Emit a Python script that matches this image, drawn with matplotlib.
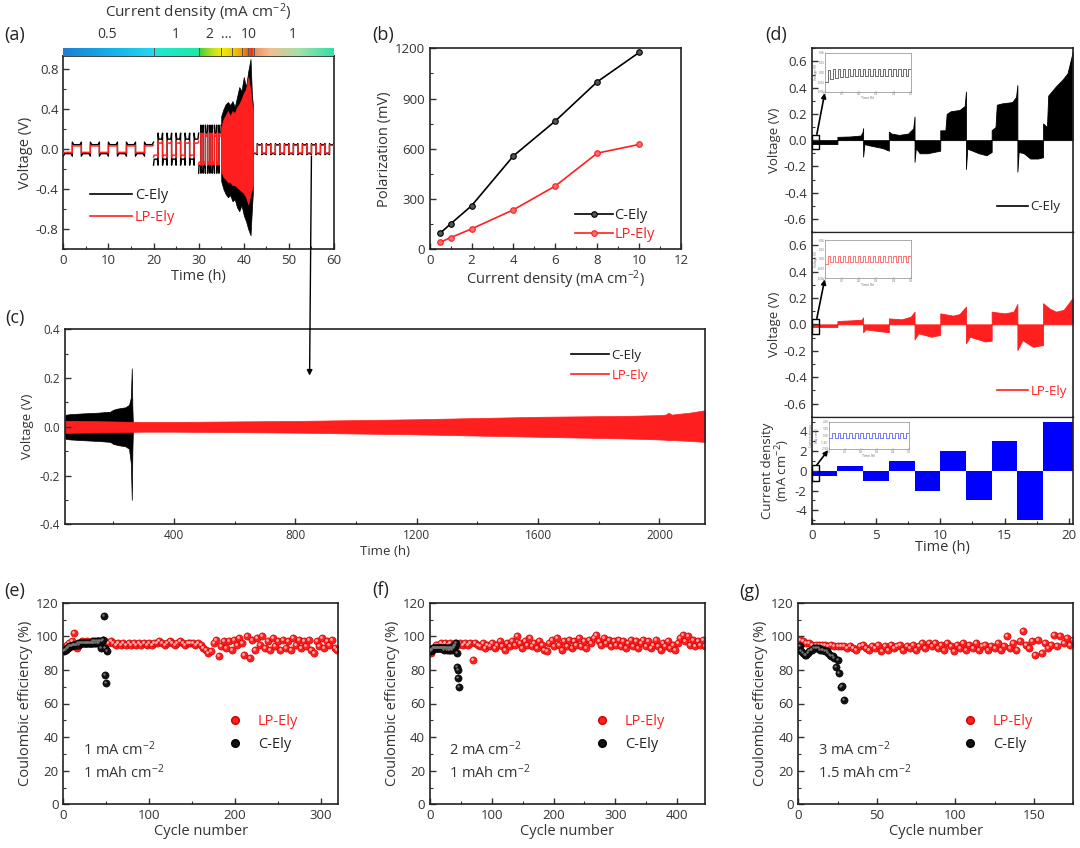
import numpy as np
import matplotlib
matplotlib.use("Agg")
import matplotlib.pyplot as plt
from matplotlib.colors import LinearSegmentedColormap
from matplotlib.patches import Rectangle, ConnectionPatch
from matplotlib.lines import Line2D
from matplotlib.ticker import MultipleLocator
from matplotlib.transforms import offset_copy, blended_transform_factory

plt.rcParams['font.family'] = ['Open Sans', 'DejaVu Sans']
plt.rcParams['mathtext.default'] = 'regular'
plt.rcParams['axes.unicode_minus'] = False

# ---------------- data ----------------
# (a) rate test: square-wave segments (start, end, half cycle in h, plateau / overshoot in V)
seg_start = [0, 20, 30, 42]
seg_end = [20, 30, 35, 60]
seg_half = [2.0, 1.0, 0.5, 1.0]
c_plateau = [0.045, 0.10, 0.16, 0.045]
c_peak = [0.07, 0.16, 0.24, 0.055]
lp_plateau = [0.032, 0.06, 0.13, 0.038]
lp_peak = [0.04, 0.08, 0.16, 0.045]
# envelope of the dense high-rate part (35-42 h)
env_t = [35.0, 35.5, 36.0, 36.5, 37.0, 37.5, 38.0, 38.5, 39.0, 39.5, 40.0, 40.5, 41.0, 41.5, 41.8, 42.0]
env_c_up = [0.33, 0.40, 0.45, 0.47, 0.44, 0.48, 0.42, 0.52, 0.62, 0.58, 0.72, 0.62, 0.78, 0.90, 0.55, 0.45]
env_c_lo = [-0.32, -0.40, -0.45, -0.48, -0.46, -0.52, -0.50, -0.58, -0.62, -0.56, -0.66, -0.72, -0.80, -0.86, -0.60, -0.45]
env_lp_up = [0.22, 0.30, 0.34, 0.38, 0.33, 0.38, 0.36, 0.42, 0.45, 0.50, 0.56, 0.60, 0.72, 0.58, 0.45, 0.40]
env_lp_lo = [-0.22, -0.28, -0.30, -0.33, -0.33, -0.36, -0.36, -0.38, -0.40, -0.42, -0.44, -0.48, -0.55, -0.45, -0.40, -0.35]
# current density colour strip
cd_t = [0, 10, 19.9, 20.1, 30, 30.3, 33, 35, 37.5, 39.5, 41, 42, 42.4, 46, 52, 60]
cd_colors = ['#1e7fd4', '#14aee8', '#22d8f0', '#22e6d4', '#1ee8a8', '#44d040', '#b8e020', '#f0ec10',
             '#f0d000', '#f0a010', '#e86018', '#d83018', '#ec9060', '#f0c090', '#a8e0a8', '#30e0a8']
cd_sep = [20, 30, 35, 37.5, 39.5, 41, 42.3]
cd_labels = ['0.5', '1', '2', '…', '10', '1']
cd_label_t = [9.7, 25, 32.4, 36.2, 41.2, 50.9]

# (b) polarization
cd_b = [0.5, 1, 2, 4, 6, 8, 10]
pol_c = [96, 152, 260, 558, 766, 1000, 1175]
pol_lp = [42, 70, 122, 236, 378, 574, 626]

# (c) long-term cycling, envelopes
c_t = [40, 45, 60, 100, 150, 190, 200, 215, 240, 252, 258, 261, 263, 265]
c_up = [0.045, 0.05, 0.052, 0.055, 0.058, 0.062, 0.07, 0.075, 0.08, 0.09, 0.12, 0.24, 0.08, 0.0]
c_lo = [-0.045, -0.05, -0.052, -0.055, -0.058, -0.062, -0.07, -0.075, -0.08, -0.09, -0.15, -0.30, -0.10, 0.0]
lp_t = [40, 300, 400, 800, 1200, 1600, 1900, 2000, 2020, 2030, 2040, 2100, 2150]
lp_up = [0.025, 0.02, 0.02, 0.024, 0.031, 0.041, 0.045, 0.048, 0.05, 0.058, 0.05, 0.058, 0.068]
lp_lo = [-0.025, -0.02, -0.02, -0.024, -0.031, -0.041, -0.048, -0.052, -0.053, -0.055, -0.054, -0.058, -0.062]

# (d) step test
dc_t = [0, 2.0, 2.0, 3.0, 3.8, 3.95, 4.0, 4.0, 4.1, 4.5, 5.0, 5.5, 6.0,
        6.0, 6.2, 6.8, 7.5, 7.9, 8.0, 8.0, 8.1, 8.4, 9.0, 9.5, 10.0,
        10.0, 10.4, 10.5, 10.8, 11.5, 11.9, 12.0, 12.0, 12.1, 12.5, 13.0, 13.6, 14.0,
        14.0, 14.3, 14.4, 14.8, 15.6, 15.9, 16.0, 16.0, 16.1, 16.5, 17.0, 17.6, 18.0,
        18.0, 18.3, 18.4, 19.0, 19.5, 19.9, 20.3]
dc_v = [-0.03, -0.03, 0.025, 0.028, 0.035, 0.06, 0.09, -0.125, -0.03, -0.04, -0.05, -0.06, -0.08,
        0.065, 0.05, 0.04, 0.05, 0.09, 0.18, -0.165, -0.06, -0.10, -0.10, -0.09, -0.08,
        0.075, 0.075, 0.20, 0.22, 0.23, 0.26, 0.37, -0.22, -0.065, -0.08, -0.10, -0.115, -0.09,
        0.076, 0.10, 0.27, 0.28, 0.29, 0.33, 0.42, -0.24, -0.09, -0.10, -0.14, -0.14, -0.13,
        0.127, 0.10, 0.34, 0.41, 0.46, 0.51, 0.67]
dlp_t = [0, 2.0, 2.0, 3.0, 3.9, 4.0, 4.0, 4.2, 5.0, 6.0,
         6.0, 7.0, 7.7, 8.0, 8.0, 8.3, 9.3, 10.0,
         10.0, 11.0, 11.5, 12.0, 12.0, 12.3, 13.5, 14.0,
         14.0, 15.0, 15.7, 16.0, 16.0, 16.4, 17.2, 18.0,
         18.0, 18.5, 19.0, 19.6, 20.3]
dlp_v = [-0.02, -0.02, 0.025, 0.03, 0.035, 0.053, -0.06, -0.038, -0.048, -0.06,
         0.045, 0.038, 0.058, 0.096, -0.114, -0.068, -0.094, -0.08,
         0.083, 0.066, 0.078, 0.134, -0.144, -0.094, -0.13, -0.124,
         0.096, 0.083, 0.096, 0.154, -0.195, -0.12, -0.17, -0.157,
         0.16, 0.12, 0.096, 0.11, 0.20]
block_start = [0, 2, 4, 6, 8, 10, 12, 14, 16, 18]
block_width = [2, 2, 2, 2, 2, 2, 2, 2, 2, 2.3]
block_cd = [-0.5, 0.5, -1, 1, -2, 2, -3, 3, -5, 5]
# inset traces (one value per half cycle, first 0.5 h)
ins_c = [-0.030, 0.008, -0.020, 0.010, -0.016, 0.010, -0.014, 0.010, -0.013, 0.010, -0.012, 0.010,
         -0.012, 0.010, -0.012, 0.010, -0.011, 0.010, -0.011, 0.010, -0.011, 0.010, -0.011, 0.010,
         -0.011, 0.010, -0.011, 0.010, -0.011, 0.010, -0.011, 0.010, -0.011, 0.010]
ins_lp = [-0.016, 0.010, -0.011, 0.010, -0.010, 0.010, -0.010, 0.010, -0.010, 0.010, -0.010, 0.010,
          -0.010, 0.010, -0.010, 0.010, -0.010, 0.010, -0.010, 0.010, -0.010, 0.010, -0.010, 0.010,
          -0.010, 0.010, -0.010, 0.010, -0.010, 0.010, -0.010, 0.010, -0.010, 0.010]
ins_cd = [-0.5, 0.5, -0.5, 0.5, -0.5, 0.5, -0.5, 0.5, -0.5, 0.5, -0.5, 0.5, -0.5, 0.5,
          -0.5, 0.5, -0.5, 0.5, -0.5, 0.5, -0.5, 0.5, -0.5, 0.5, -0.5, 0.5, -0.5, 0.5]

# (e)-(g) Coulombic efficiency
e_lp = [93, 95, 96, 97, 102, 93, 96, 97, 96, 97, 96, 97, 96, 97, 96, 98, 97, 96, 97, 96,
        95, 96, 95, 96, 95, 96, 95, 96, 95, 96, 95, 96, 95, 96, 95, 96, 96, 97, 96, 95,
        96, 97, 96, 95, 96, 97, 96, 95, 96, 96, 96, 95, 96, 95, 93, 92, 90, 91, 96, 98,
        88, 94, 97, 93, 97, 92, 98, 95, 99, 96, 89, 100, 87, 98, 92, 99, 95, 100, 93, 97,
        92, 99, 94, 97, 92, 98, 93, 97, 92, 99, 95, 98, 93, 97, 94, 98, 92, 90, 97, 94,
        99, 93, 97, 95, 98, 93, 92]
e_c = [91, 92, 92, 93, 93, 93, 94, 94, 94, 94, 95, 95, 95, 95, 95, 95, 96, 95, 96, 96,
       96, 96, 96, 96, 96, 96, 96, 96, 96, 96, 96, 96, 96, 96, 97, 96, 97, 96, 97, 96,
       97, 96, 97, 93, 97, 98, 112, 93, 77, 72, 91]
f_lp = [90, 93, 95, 95, 96, 95, 96, 95, 96, 95, 96, 95, 96, 95, 96, 95, 96, 86, 96, 95,
        94, 96, 93, 95, 94, 96, 93, 95, 97, 94, 92, 96, 94, 97, 95, 100, 96, 93, 97, 95,
        99, 94, 96, 93, 97, 95, 92, 91, 96, 98, 94, 99, 95, 92, 97, 94, 98, 93, 97, 95,
        99, 94, 97, 93, 98, 96, 99, 101, 97, 95, 99, 96, 98, 94, 97, 95, 98, 94, 97, 93,
        96, 98, 94, 97, 93, 96, 98, 94, 97, 93, 95, 98, 94, 92, 96, 94, 97, 93, 95, 92,
        96, 99, 101, 97, 100, 95, 98, 94, 97, 95, 98, 94]
f_c = [91, 92, 92, 92, 93, 93, 93, 93, 93, 93, 93, 93, 93, 93, 93, 93, 93, 93, 93, 93,
       93, 92, 93, 93, 93, 93, 93, 92, 93, 93, 92, 93, 92, 93, 92, 93, 93, 94, 93, 94,
       95, 96, 90, 82, 80, 75, 70]
g_lp = [98, 97, 96, 96, 95, 95, 95, 95, 95, 94, 95, 94, 94, 94, 94, 93, 94, 93, 92, 94,
        95, 93, 92, 94, 93, 95, 91, 94, 92, 95, 93, 94, 95, 92, 94, 93, 95, 92, 94, 96,
        93, 96, 94, 96, 93, 95, 92, 96, 94, 91, 95, 93, 96, 92, 95, 93, 96, 92, 94, 95,
        92, 94, 93, 96, 92, 94, 100, 93, 96, 92, 97, 103, 95, 93, 97, 89, 98, 90, 96, 93,
        95, 101, 94, 100, 96, 99, 95, 98]
g_c = [94, 91, 90, 89, 89, 90, 91, 92, 92, 93, 93, 93, 93, 92, 92, 92, 91, 91, 90, 89,
       88, 88, 87, 82, 86, 78, 70, 70.5, 62]

# ---------------- figure ----------------
W, H = 1080, 848
fig = plt.figure(figsize=(W / 100, H / 100), dpi=100)
TXT = '#333333'
RED = '#ff1f1f'


def px(l, t, r, b):
    return [l / W, 1 - b / H, (r - l) / W, (b - t) / H]


def style(ax, fs=9):
    ax.tick_params(which='both', direction='in', labelsize=fs, colors=TXT, top=False, right=False)
    ax.tick_params(which='major', length=4, width=1)
    ax.tick_params(which='minor', length=2, width=0.8)
    for s in ax.spines.values():
        s.set_linewidth(1.2)
        s.set_color('#222222')


def color_legend(leg, colors):
    for t, c in zip(leg.get_texts(), colors):
        t.set_color(c)


def square_wave(t0, t1, half, plateau, peak):
    ts, vs = [], []
    n = int(round((t1 - t0) / half))
    for k in range(n):
        a = t0 + k * half
        b = a + half
        s = -1 if k % 2 == 0 else 1
        d = 0.15 * half
        ts += [a, a + d, b - d, b]
        vs += [s * peak, s * plateau, s * plateau, s * peak]
    return ts, vs


# ---- (a) ----
axa = fig.add_axes(px(63.3, 56, 334, 249.3))
for i in range(len(seg_start)):
    t, v = square_wave(seg_start[i], seg_end[i], seg_half[i], c_plateau[i], c_peak[i])
    axa.plot(t, v, color='k', lw=1.0, zorder=2)
axa.fill_between(env_t, env_c_lo, env_c_up, color='k', lw=0.5, zorder=2)
for i in range(len(seg_start)):
    t, v = square_wave(seg_start[i], seg_end[i], seg_half[i], lp_plateau[i], lp_peak[i])
    axa.plot(t, v, color=RED, lw=1.0, zorder=3)
axa.fill_between(env_t, env_lp_lo, env_lp_up, color=RED, lw=0.5, zorder=3)
axa.set_xlim(0, 60)
axa.set_ylim(-1.0, 0.93)
axa.xaxis.set_major_locator(MultipleLocator(10))
axa.xaxis.set_minor_locator(MultipleLocator(5))
axa.yaxis.set_minor_locator(MultipleLocator(0.2))
axa.set_yticks([-0.8, -0.4, 0.0, 0.4, 0.8])
axa.set_yticklabels(['-0.8', '-0.4', '0.0', '0.4', '0.8'])
style(axa, 9.5)
axa.set_xlabel('Time (h)', fontsize=10.5, color=TXT, labelpad=1)
axa.set_ylabel('Voltage (V)', fontsize=10.5, color=TXT, labelpad=2)
leg = axa.legend([Line2D([], [], color='k', lw=1.2), Line2D([], [], color=RED, lw=1.2)],
                 ['C-Ely', 'LP-Ely'], loc='center left', bbox_to_anchor=(0.07, 0.22),
                 frameon=False, fontsize=10.5, handlelength=2.9, handletextpad=0.2,
                 borderpad=0, labelspacing=0.45)
color_legend(leg, ['#222222', RED])

cax = fig.add_axes(px(63.3, 47.7, 334, 56))
cmap = LinearSegmentedColormap.from_list('cd', list(zip(np.array(cd_t) / 60.0, cd_colors)))
cax.imshow(np.linspace(0, 60, 1200)[None, :], aspect='auto', cmap=cmap, vmin=0, vmax=60,
           extent=[0, 60, 0, 1])
for s in cd_sep:
    cax.axvline(s, color='#555555', lw=0.7)
cax.set_xlim(0, 60)
cax.set_xticks([])
cax.set_yticks([])
for s in cax.spines.values():
    s.set_visible(False)
tr = blended_transform_factory(cax.transData, cax.transAxes)
for lab, t in zip(cd_labels, cd_label_t):
    cax.text(t, 2.55, lab, transform=tr, ha='center', va='center', fontsize=10, color=TXT)
fig.text(198 / W, 1 - 13 / H, 'Current density (mA cm$^{-2}$)', ha='center', va='center',
         fontsize=11, color=TXT)

# ---- (b) ----
axb = fig.add_axes(px(429.7, 48.3, 681, 249.3))
axb.plot(cd_b, pol_c, color='k', lw=1.2, marker='o', ms=4, mfc='#555555', mec='k', mew=0.8)
axb.plot(cd_b, pol_lp, color=RED, lw=1.2, marker='o', ms=4, mfc='#ff6a6a', mec=RED, mew=0.8)
axb.set_xlim(0, 12)
axb.set_ylim(0, 1200)
axb.xaxis.set_major_locator(MultipleLocator(2))
axb.xaxis.set_minor_locator(MultipleLocator(1))
axb.yaxis.set_major_locator(MultipleLocator(300))
axb.yaxis.set_minor_locator(MultipleLocator(150))
style(axb, 9.5)
axb.set_xlabel('Current density (mA cm$^{-2}$)', fontsize=10.5, color=TXT, labelpad=1)
axb.set_ylabel('Polarization (mV)', fontsize=10.5, color=TXT, labelpad=2)
leg = axb.legend(['C-Ely', 'LP-Ely'], loc='center left', bbox_to_anchor=(0.55, 0.12),
                 frameon=False, fontsize=10.5, handlelength=2.6, handletextpad=0.1,
                 borderpad=0, labelspacing=0.3)
color_legend(leg, ['#222222', RED])

# ---- (c) ----
axc = fig.add_axes(px(64.7, 329.3, 705, 524.3))
axc.fill_between(c_t, c_lo, c_up, color='k', lw=0.5)
axc.fill_between(lp_t, lp_lo, lp_up, color=RED, lw=0.5)
axc.set_xlim(40, 2150)
axc.set_ylim(-0.4, 0.4)
axc.xaxis.set_minor_locator(MultipleLocator(200))
axc.yaxis.set_minor_locator(MultipleLocator(0.1))
style(axc, 8.5)
axc.set_xticks([400, 800, 1200, 1600, 2000])
axc.set_yticks([-0.4, -0.2, 0.0, 0.2, 0.4])
axc.set_yticklabels(['-0.4', '-0.2', '0.0', '0.2', '0.4'])
axc.set_xlabel('Time (h)', fontsize=9.5, color=TXT, labelpad=2)
axc.set_ylabel('Voltage (V)', fontsize=9.5, color=TXT, labelpad=4)
leg = axc.legend([Line2D([], [], color='k', lw=1.2), Line2D([], [], color=RED, lw=1.2)],
                 ['C-Ely', 'LP-Ely'], loc='center left', bbox_to_anchor=(0.78, 0.815),
                 frameon=False, fontsize=9.5, handlelength=2.9, handletextpad=0.2,
                 borderpad=0, labelspacing=0.5)
color_legend(leg, ['#222222', RED])

# arrow from (a) to (c)
con = ConnectionPatch(xyA=(55, -0.07), coordsA=axa.transData, xyB=(847, 0.21),
                      coordsB=axc.transData, arrowstyle='-|>', color='k', lw=1.0,
                      mutation_scale=8)
fig.add_artist(con)

# ---- (d) ----
axd1 = fig.add_axes(px(811.7, 48.3, 1073.3, 232))
axd2 = fig.add_axes(px(811.7, 232, 1073.3, 416.7))
axd3 = fig.add_axes(px(811.7, 416.7, 1073.3, 524))
axd1.fill_between(dc_t, 0, dc_v, color='k', lw=0.6)
axd2.fill_between(dlp_t, 0, dlp_v, color=RED, lw=0.6)
axd3.bar(block_start, block_cd, width=block_width, align='edge', color='#0000ff', lw=0)
for ax in (axd1, axd2):
    ax.set_ylim(-0.7, 0.7)
    ax.yaxis.set_minor_locator(MultipleLocator(0.1))
    ax.set_yticks([-0.6, -0.4, -0.2, 0.0, 0.2, 0.4, 0.6])
    ax.set_yticklabels(['-0.6', '-0.4', '-0.2', '0.0', '0.2', '0.4', '0.6'])
    style(ax, 9.5)
    ax.tick_params(axis='x', which='both', bottom=False, labelbottom=False)
    ax.set_ylabel('Voltage (V)', fontsize=9.5, color=TXT, labelpad=2)
axd3.set_ylim(-5.4, 5.5)
axd3.yaxis.set_major_locator(MultipleLocator(2))
axd3.yaxis.set_minor_locator(MultipleLocator(1))
style(axd3, 9.5)
axd3.set_ylabel('Current density\n(mA cm$^{-2}$)', fontsize=9.5, color=TXT, labelpad=2,
                linespacing=1.0)
axd3.set_xlabel('Time (h)', fontsize=10.5, color=TXT, labelpad=-1)
for ax in (axd1, axd2, axd3):
    ax.set_xlim(0, 20.35)
    ax.xaxis.set_major_locator(MultipleLocator(5))
    ax.xaxis.set_minor_locator(MultipleLocator(2.5))
axd1.spines['bottom'].set_linewidth(0.9)
axd2.spines['top'].set_linewidth(0.9)
axd2.spines['bottom'].set_linewidth(0.9)
axd3.spines['top'].set_linewidth(0.9)

for ax, lab, col in ((axd1, 'C-Ely', 'k'), (axd2, 'LP-Ely', RED)):
    leg = ax.legend([Line2D([], [], color=col, lw=1.2)], [lab], loc='center left',
                    bbox_to_anchor=(0.685, 0.138), frameon=False, fontsize=9.5,
                    handlelength=2.3, handletextpad=0.2, borderpad=0)
    color_legend(leg, ['#222222' if col == 'k' else RED])

# insets of (d)
ins_specs = [(axd1, ins_c, '#555555', px(825, 53, 910.7, 91.7), (0.05, -0.07, 0.55, 0.11),
              (0.4, 0.045), 'Voltage (V)', 0.06),
             (axd2, ins_lp, '#ff6060', px(825, 240, 910.7, 278), (0.05, -0.07, 0.55, 0.11),
              (0.4, 0.045), 'Voltage (V)', 0.06),
             (axd3, ins_cd, '#6060ff', px(829, 421.7, 909, 449), (0.05, -1.05, 0.55, 1.65),
              (0.4, 0.6), 'Current density\n(mA cm$^{-2}$)', 2.5)]
for host, vals, col, pos, rect, start, ylab, lim in ins_specs:
    ins = fig.add_axes(pos)
    dt = 0.5 / len(vals)
    tt = np.arange(len(vals) + 1) * dt
    ins.step(tt, list(vals) + [vals[-1]], where='post', color=col, lw=0.6)
    ins.set_xlim(0, 0.5)
    ins.set_ylim(-lim, lim)
    ins.set_xticks([0, 0.1, 0.2, 0.3, 0.4, 0.5])
    ins.set_yticks(np.linspace(-lim, lim, 5))
    ins.tick_params(labelsize=2.2, length=1, width=0.3, direction='in', colors='#666666', pad=0.5)
    ins.set_xlabel('Time (h)', fontsize=2.5, labelpad=0, color='#666666')
    ins.set_ylabel(ylab, fontsize=2.3, labelpad=0, color='#666666')
    for s in ins.spines.values():
        s.set_linewidth(0.5)
        s.set_color('#888888')
    host.add_patch(Rectangle(rect[:2], rect[2], rect[3], fill=False, ec='k', lw=1.0, zorder=5))
    host.annotate('', xy=(0, 0), xycoords=ins, xytext=start, textcoords='data',
                  arrowprops=dict(arrowstyle='-|>', color='k', lw=1.2, mutation_scale=7,
                                  shrinkA=0, shrinkB=1))

# ---- (e)-(g) ----
ce_specs = [
    (px(63.3, 602.7, 338, 804.3), e_lp, 1, 3, e_c, 320, 100, 50, '1 mA cm$^{-2}$', '1 mAh cm$^{-2}$'),
    (px(430, 602.7, 705, 804.3), f_lp, 1, 4, f_c, 445, 100, 50, '2 mA cm$^{-2}$', '1 mAh cm$^{-2}$'),
    (px(798.3, 602.7, 1073, 804.3), g_lp, 1, 2, g_c, 175, 50, 25, '3 mA cm$^{-2}$', '1.5 mAh cm$^{-2}$'),
]
for pos, ylp, x0, step, yc, xmax, major, minor, t1, t2 in ce_specs:
    ax = fig.add_axes(pos)
    xlp = np.arange(x0, x0 + step * len(ylp), step)
    xc = np.arange(1, len(yc) + 1)
    hl = offset_copy(ax.transData, fig=fig, x=-0.7, y=0.7, units='points')
    ax.scatter(xlp, ylp, s=27, c=RED, edgecolors='#c80000', linewidths=0.4, zorder=2)
    ax.scatter(xlp, ylp, s=4, c='#ffb0b0', linewidths=0, zorder=2, transform=hl)
    ax.scatter(xc, yc, s=27, c='#111111', edgecolors='k', linewidths=0.4, zorder=3)
    ax.scatter(xc, yc, s=3, c='#777777', linewidths=0, zorder=3, transform=hl)
    ax.set_xlim(0, xmax)
    ax.set_ylim(0, 120)
    ax.xaxis.set_major_locator(MultipleLocator(major))
    ax.xaxis.set_minor_locator(MultipleLocator(minor))
    ax.yaxis.set_major_locator(MultipleLocator(20))
    ax.yaxis.set_minor_locator(MultipleLocator(10))
    style(ax, 9.5)
    ax.set_xlabel('Cycle number', fontsize=10.5, color=TXT, labelpad=1)
    ax.set_ylabel('Coulombic efficiency (%)', fontsize=10.5, color=TXT, labelpad=2)
    ax.text(0.07, 0.27, t1, transform=ax.transAxes, fontsize=10.5, color=TXT, va='center')
    ax.text(0.07, 0.155, t2, transform=ax.transAxes, fontsize=10.5, color=TXT, va='center')
    hs = [Line2D([], [], ls='', marker='o', ms=5.5, mfc=RED, mec='#c80000'),
          Line2D([], [], ls='', marker='o', ms=5.5, mfc='#111111', mec='k')]
    leg = ax.legend(hs, ['LP-Ely', 'C-Ely'], loc='center left', bbox_to_anchor=(0.56, 0.355),
                    frameon=False, fontsize=10.5, handlelength=1.5, handletextpad=0.8,
                    borderpad=0, labelspacing=0.55)
    color_legend(leg, [RED, '#222222'])

# panel letters
for lab, x, y in (('(a)', 15, 35), ('(b)', 383, 35), ('(c)', 15, 318), ('(d)', 776, 35),
                  ('(e)', 15, 591), ('(f)', 381, 590), ('(g)', 750, 592)):
    fig.text(x / W, 1 - y / H, lab, fontsize=13, color='#222222', ha='center', va='center')

fig.savefig('out.png', dpi=100)
